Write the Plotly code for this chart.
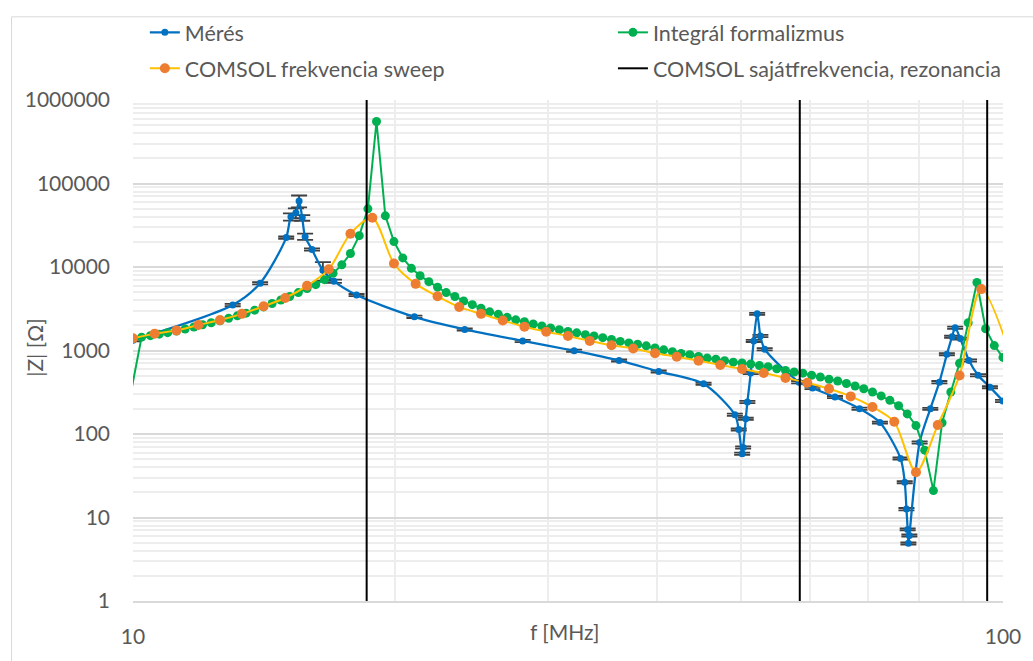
import plotly.graph_objects as go

# ---------------- data ----------------
# Mérés (measurement)
meres_f = [10.0, 13.02, 14.0, 15.0, 15.19, 15.39, 15.52, 15.65, 15.77, 16.06,
           16.53, 17.02, 18.07, 21.06, 24.06, 28.05, 32.14, 36.2, 40.2, 45.27,
           49.18, 49.69, 50.14, 50.27, 50.62, 50.84, 51.29, 51.7, 52.17, 52.62,
           53.22, 58.3, 60.4, 64.1, 68.4, 72.2, 76.25, 77.1, 77.45, 77.7,
           77.85, 78.05, 80.2, 82.5, 84.5, 86.2, 87.4, 88.1, 89.3, 91.4,
           93.6, 96.6, 100.0]
meres_z = [1330, 3500, 6400, 22500, 39900, 44500, 61800, 38800, 23100, 16200,
           9140, 6760, 4610, 2530, 1790, 1303, 993, 761, 559, 399,
           170, 113, 58, 69, 152, 242, 538, 1303, 2747, 1494,
           1037, 418, 355, 277, 201, 137, 51, 26.5, 12.6, 7.2,
           4.9, 6.1, 79, 200, 418, 900, 1466, 1875, 1388, 760,
           506, 364, 249]
meres_err = [40, 110, 200, 700, 4000, 6000, 10000, 3000, 2000, 500,
             2300, 300, 140, 80, 55, 40, 30, 23, 17, 12,
             5, 3.4, 1.7, 2.1, 4.6, 7.3, 16, 39, 80, 45,
             31, 13, 11, 8, 6, 4, 1.5, 0.8, 0.4, 0.2,
             0.15, 0.18, 2.4, 6, 13, 27, 44, 56, 42, 23,
             15, 11, 7.5]

# Integrál formalizmus
integral_f = [9.77, 10.23, 10.47, 10.72, 10.96, 11.22, 11.48, 11.75, 12.02, 12.30,
              12.59, 12.88, 13.18, 13.49, 13.80, 14.13, 14.45, 14.79, 15.14, 15.49,
              15.85, 16.22, 16.60, 16.98, 17.38, 17.78, 18.20, 18.62, 19.05, 19.50,
              19.95, 20.42, 20.89, 21.38, 21.88, 22.39, 22.91, 23.44, 23.99, 24.55,
              25.12, 25.70, 26.30, 26.92, 27.54, 28.18, 28.84, 29.51, 30.20, 30.90,
              31.62, 32.36, 33.11, 33.88, 34.67, 35.48, 36.31, 37.15, 38.02, 38.90,
              39.81, 40.74, 41.69, 42.66, 43.65, 44.67, 45.71, 46.77, 47.86, 48.98,
              50.12, 51.29, 52.48, 53.70, 54.95, 56.23, 57.54, 58.88, 60.26, 61.66,
              63.10, 64.57, 66.07, 67.61, 69.18, 70.79, 72.44, 74.13, 75.86, 77.62,
              79.43, 81.28, 83.18, 85.11, 87.10, 89.13, 91.20, 93.33, 95.50, 97.72,
              100.0]
integral_z = [120, 1445, 1506, 1570, 1636, 1714, 1809, 1910, 2034, 2148,
              2268, 2429, 2603, 2802, 3040, 3325, 3660, 4027, 4430, 4941,
              5512, 6147, 7050, 8414, 10610, 14530, 23740, 49700, 553000, 41000,
              20170, 12850, 9640, 7860, 6670, 5740, 4941, 4430, 3918, 3540,
              3207, 2902, 2710, 2497, 2331, 2208, 2074, 1963, 1858, 1774,
              1694, 1626, 1548, 1494, 1426, 1357, 1285, 1234, 1188, 1137,
              1071, 1019, 966, 922, 890, 849, 811, 787, 755, 725,
              709, 690, 661, 641, 605, 576, 552, 535, 506, 481,
              453, 431, 403, 376, 348, 318, 286, 253, 218, 174,
              126, 64, 21, 136, 318, 702, 2148, 6530, 1824, 1146,
              826]

# COMSOL frekvencia sweep
sweep_f = [10.00, 10.59, 11.22, 11.89, 12.59, 13.34, 14.13, 14.96, 15.85, 16.79,
           17.78, 18.84, 19.95, 21.13, 22.39, 23.71, 25.12, 26.61, 28.18, 29.85,
           31.62, 33.50, 35.48, 37.58, 39.81, 42.17, 44.67, 47.32, 50.12, 53.09,
           56.23, 59.57, 63.10, 66.83, 70.79, 74.99, 79.43, 84.14, 89.13, 94.41,
           105.9]
sweep_z = [1400, 1592, 1741, 2018, 2313, 2747, 3390, 4254, 5950, 9380,
           25070, 38850, 11000, 6280, 4455, 3325, 2747, 2287, 1926, 1680,
           1494, 1303, 1156, 1056, 929, 842, 755, 670, 600, 538,
           470, 410, 348, 282, 211, 140, 34.8, 128, 501, 5435,
           260]

# COMSOL sajátfrekvencia, rezonancia (vertical lines)
sajat_f = [18.56, 58.4, 95.9]
sajat_zmin = 1
sajat_zmax = 1000000

x_tick_vals = [10, 100]
x_tick_text = ["10", "100"]
x_minor_vals = [20, 30, 40, 50, 60, 70, 80, 90]
y_tick_vals = [1, 10, 100, 1000, 10000, 100000, 1000000]
y_tick_text = ["1", "10", "100", "1000", "10000", "100000", "1000000"]
y_minor_vals = [m * d for d in [1, 10, 100, 1000, 10000, 100000] for m in range(2, 10)]

# ---------------- figure ----------------
FONT = "Lato"
TXT = "#595959"

fig = go.Figure()

fig.add_trace(go.Scatter(
    x=meres_f, y=meres_z, name="Mérés", mode="lines+markers",
    line=dict(color="#0070C0", width=2.25, shape="spline", smoothing=0.8),
    marker=dict(color="#0070C0", size=7),
    error_y=dict(type="data", array=meres_err, visible=True,
                 color="#404040", thickness=1.8, width=8),
    legend="legend", legendgroup="a",
))
fig.add_trace(go.Scatter(
    x=integral_f, y=integral_z, name="Integrál formalizmus", mode="lines+markers",
    line=dict(color="#00B050", width=2),
    marker=dict(color="#00B050", size=9),
    legend="legend2", legendgroup="b",
))
fig.add_trace(go.Scatter(
    x=sweep_f, y=sweep_z, name="COMSOL frekvencia sweep", mode="lines+markers",
    line=dict(color="#FFC000", width=2, shape="spline", smoothing=0.8),
    marker=dict(color="#ED7D31", size=10),
    legend="legend", legendgroup="c",
))
vx, vy = [], []
for f in sajat_f:
    vx += [f, f, None]
    vy += [sajat_zmin, sajat_zmax, None]
fig.add_trace(go.Scatter(
    x=vx, y=vy, name="COMSOL sajátfrekvencia, rezonancia", mode="lines",
    line=dict(color="#000000", width=2),
    legend="legend2", legendgroup="d",
))

L, R, T, B = 133, 19, 95, 60
W, H = 1033, 661
PW, PH = W - L - R, H - T - B


def px_x(p):
    return (p - L) / PW


def px_y(p):
    return (H - B - p) / PH


fig.update_layout(
    width=W, height=H,
    margin=dict(l=L, r=R, t=T, b=B),
    paper_bgcolor="white", plot_bgcolor="white",
    font=dict(family=FONT, size=21, color=TXT),
    legend=dict(x=px_x(145), y=px_y(6), xanchor="left", yanchor="top",
                font=dict(family=FONT, size=21.5, color=TXT),
                tracegroupgap=5, bgcolor="rgba(0,0,0,0)"),
    legend2=dict(x=px_x(619), y=px_y(6), xanchor="left", yanchor="top",
                 font=dict(family=FONT, size=21.5, color=TXT),
                 tracegroupgap=5, bgcolor="rgba(0,0,0,0)"),
    xaxis=dict(type="log", range=[1, 2], tickvals=x_tick_vals, ticktext=x_tick_text,
               showgrid=True, gridcolor="#D9D9D9", gridwidth=1.5,
               showline=True, linecolor="#D9D9D9", linewidth=1.5,
               zeroline=False, ticks="", ticklabelstandoff=16,
               tickfont=dict(family=FONT, size=21, color=TXT),
               minor=dict(tickvals=x_minor_vals, showgrid=True,
                          gridcolor="#EDEDED", gridwidth=1.5, ticks="")),
    yaxis=dict(type="log", range=[0, 6], tickvals=y_tick_vals, ticktext=y_tick_text,
               showgrid=True, gridcolor="#D9D9D9", gridwidth=1.5,
               showline=False, zeroline=False, ticks="", ticklabelstandoff=22,
               tickfont=dict(family=FONT, size=21, color=TXT),
               minor=dict(tickvals=y_minor_vals, showgrid=True,
                          gridcolor="#EDEDED", gridwidth=1.5, ticks="")),
    annotations=[
        dict(text="f [MHz]", x=px_x(570), y=px_y(632), xref="paper", yref="paper",
             xanchor="center", yanchor="middle", showarrow=False,
             font=dict(family=FONT, size=21, color=TXT)),
        dict(text="|Z| [Ω]", x=px_x(33), y=px_y(345), xref="paper", yref="paper",
             xanchor="center", yanchor="middle", showarrow=False, textangle=-90,
             font=dict(family=FONT, size=21, color=TXT)),
    ],
    shapes=[dict(type="rect", xref="paper", yref="paper",
                 x0=px_x(10), x1=px_x(1045), y0=px_y(675), y1=px_y(11),
                 line=dict(color="#D9D9D9", width=1), layer="below")],
)

fig.write_html("out.html")
